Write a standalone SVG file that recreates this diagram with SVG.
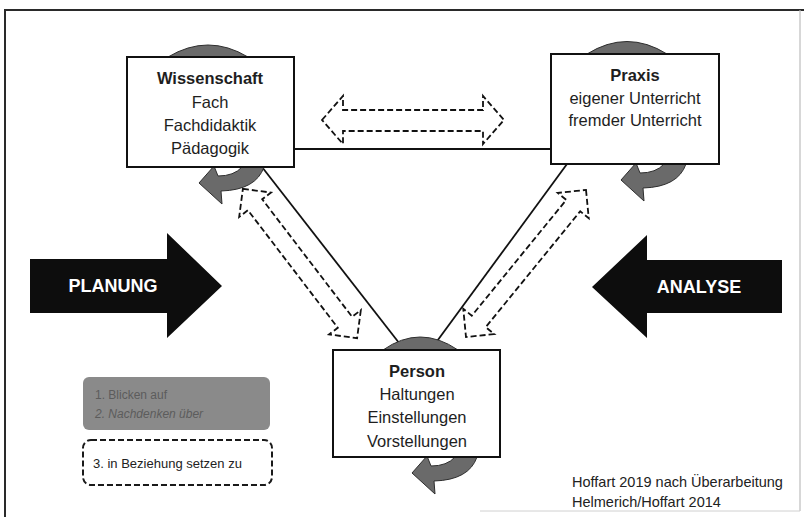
<svg xmlns="http://www.w3.org/2000/svg" width="804" height="517" viewBox="0 0 804 517">
<style>
.frame{stroke:#2a2a2a;stroke-width:2;fill:none}
.box{fill:#fff;stroke:#111;stroke-width:2}
.hump{fill:#6a6a6a;stroke:#2e2e2e;stroke-width:1}
.conn{stroke:#111;stroke-width:1.8;fill:none}
.dash{fill:none;stroke:#111;stroke-width:1.8;stroke-dasharray:6 3;stroke-linejoin:miter}
.big{fill:#0d0d0d}
.t{font-family:"Liberation Sans",Arial,sans-serif;font-size:16.5px;fill:#1e1e1e;text-anchor:middle}
.b{font-weight:bold}
.w{font-family:"Liberation Sans",Arial,sans-serif;font-size:18px;font-weight:bold;fill:#fff;text-anchor:middle}
.leg{font-family:"Liberation Sans",Arial,sans-serif;font-size:12px;fill:#5c5c5c}
.s{font-family:"Liberation Sans",Arial,sans-serif;font-size:13px;fill:#222}
.cr{font-family:"Liberation Sans",Arial,sans-serif;font-size:14.5px;fill:#222}
</style>
<defs>
<path id="curl" d="M -30 0 Q -38 23 -73 24 L -72 37 L -95 16 L -80 -1 L -76 9 Q -60 9 -52 0 Z"/>
<polygon id="dbl" points="-94,0 -74,-20 -74,-9 74,-9 74,-20 94,0 74,20 74,9 -74,9 -74,20"/>
</defs>
<rect width="804" height="517" fill="#fff"/>
<g id="frame">
<path class="frame" d="M5 517 V10 H804"/>
<line x1="800" y1="10" x2="800" y2="511" stroke="#bdbdbd" stroke-width="1.2"/>
<line x1="480" y1="511" x2="800" y2="511" stroke="#d0d0d0" stroke-width="1"/>
</g>
<g id="connectors">
<line class="conn" x1="294" y1="149" x2="551" y2="149"/>
<line class="conn" x1="262" y1="167" x2="403" y2="348"/>
<line class="conn" x1="567" y1="164" x2="432" y2="348"/>
<polygon class="dash" points="322,120 343,96 343,110 483,110 483,96 504,120 483,144 483,131 343,131 343,144"/>
<use href="#dbl" class="dash" transform="translate(300 263.5) rotate(52.6)"/>
<use href="#dbl" class="dash" transform="translate(526 263.5) rotate(129.2) scale(1.01 1)"/>
</g>
<g id="planung">
<polygon class="big" points="30,259 167,259 167,233 222,286 167,338 167,313 30,313"/>
<text class="w" x="113" y="292">PLANUNG</text>
</g>
<g id="analyse">
<polygon class="big" points="782,260 647,260 647,235 592,287 647,338 647,313 782,313"/>
<text class="w" x="699" y="293">ANALYSE</text>
</g>
<g id="wissenschaft">
<path class="hump" d="M168 57 Q208 33 248 57 Z"/>
<use href="#curl" class="hump" transform="translate(294 167)"/>
<rect class="box" x="127" y="57" width="167" height="110"/>
<text class="t b" x="210" y="84">Wissenschaft</text>
<text class="t" x="210" y="108">Fach</text>
<text class="t" x="210" y="131">Fachdidaktik</text>
<text class="t" x="210" y="154">Pädagogik</text>
</g>
<g id="praxis">
<path class="hump" d="M587 54 Q627 29 667 54 Z"/>
<use href="#curl" class="hump" transform="translate(716 164)"/>
<rect class="box" x="551" y="54" width="168" height="110"/>
<text class="t b" x="635" y="81">Praxis</text>
<text class="t" x="635" y="104">eigener Unterricht</text>
<text class="t" x="635" y="126">fremder Unterricht</text>
</g>
<g id="person">
<path class="hump" d="M383 350 Q420 324 458 350 Z"/>
<use href="#curl" class="hump" transform="translate(507 457)"/>
<rect class="box" x="333" y="350" width="167" height="107"/>
<text class="t b" x="417" y="377">Person</text>
<text class="t" x="417" y="400">Haltungen</text>
<text class="t" x="417" y="423">Einstellungen</text>
<text class="t" x="417" y="447">Vorstellungen</text>
</g>
<g id="legend1">
<rect x="83" y="377" width="187" height="53" rx="6" fill="#8a8a8a"/>
<text class="leg" x="95" y="399">1. Blicken auf</text>
<text class="leg" x="95" y="418" font-style="italic">2. Nachdenken über</text>
</g>
<g id="legend2">
<rect x="83" y="440" width="189" height="45" rx="8" fill="none" stroke="#1a1a1a" stroke-width="2" stroke-dasharray="6 3"/>
<text class="s" x="93" y="468">3. in Beziehung setzen zu</text>
</g>
<g id="credit">
<text class="cr" x="572" y="487">Hoffart 2019 nach Überarbeitung</text>
<text class="cr" x="572" y="507">Helmerich/Hoffart 2014</text>
</g>
</svg>
